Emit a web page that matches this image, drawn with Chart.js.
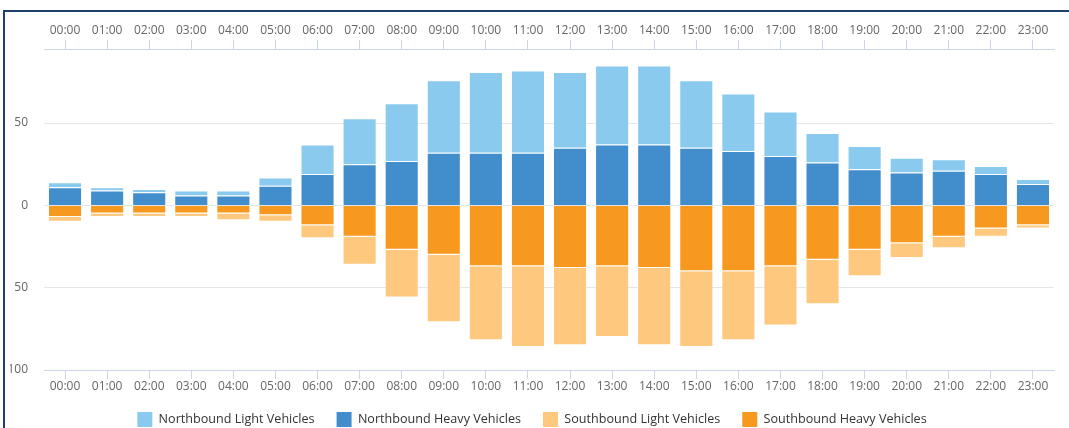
<!DOCTYPE html>
<html>
<head>
<meta charset="utf-8">
<title>Hourly traffic by direction</title>
<script src="https://cdn.jsdelivr.net/npm/chart.js@4/dist/chart.umd.min.js"></script>
<style>
  html, body { margin: 0; padding: 0; background: #ffffff; overflow: hidden; }
  #wrap { position: relative; width: 1069px; height: 428px; overflow: hidden; }
  #box { position: absolute; left: 0; top: 0; width: 1069px; height: 437px; }
  #frame {
    position: absolute; left: 3px; top: 10px; width: 1200px; height: 600px;
    border-left: 2px solid #1f4068; border-top: 2px solid #1f4068;
    pointer-events: none;
  }
</style>
</head>
<body>
<div id="wrap">
  <div id="box"><canvas id="c" width="1069" height="437"></canvas></div>
  <div id="frame"></div>
</div>
<script>
// Hour of day
const hours = ['00:00','01:00','02:00','03:00','04:00','05:00','06:00','07:00','08:00','09:00','10:00','11:00',
               '12:00','13:00','14:00','15:00','16:00','17:00','18:00','19:00','20:00','21:00','22:00','23:00'];

// Vehicle counts per hour (southbound plotted below zero)
const northLight = [3, 2, 2, 3, 3, 5, 18, 28, 35, 44, 49, 50, 46, 48, 48, 41, 35, 27, 18, 14, 9, 7, 5, 3];
const northHeavy = [11, 9, 8, 6, 6, 12, 19, 25, 27, 32, 32, 32, 35, 37, 37, 35, 33, 30, 26, 22, 20, 21, 19, 13];
const southLight = [3, 2, 2, 2, 4, 4, 8, 17, 29, 41, 45, 49, 47, 43, 47, 46, 42, 36, 27, 16, 9, 7, 5, 2];
const southHeavy = [7, 5, 5, 5, 5, 6, 12, 19, 27, 30, 37, 37, 38, 37, 38, 40, 40, 37, 33, 27, 23, 19, 14, 12];

// Value axis ticks
const yMin = -100;
const yMax = 95;
const yStep = 50;

const FONT = "'Open Sans', 'Noto Sans', sans-serif";
const EDGE = 'rgba(255,255,255,0.4)';

function barSet(label, values, color) {
  return {
    label: label,
    data: values,
    backgroundColor: color,
    borderColor: EDGE,
    borderWidth: 1,
    borderSkipped: 'start',
    stack: 'traffic',
    xAxisID: 'x',
    yAxisID: 'y'
  };
}

// Stacking order: heavy vehicles sit next to the zero line
const datasets = [
  barSet('Northbound Heavy Vehicles', northHeavy, '#428dcb'),
  barSet('Northbound Light Vehicles', northLight, '#8acaee'),
  barSet('Southbound Heavy Vehicles', southHeavy.map(v => -v), '#f7981f'),
  barSet('Southbound Light Vehicles', southLight.map(v => -v), '#fec97e')
];
// Legend order: NB light, NB heavy, SB light, SB heavy
const legendRank = [1, 0, 3, 2];

const timeAxis = (position, height, pad) => ({
  type: 'category',
  position: position,
  offset: true,
  grid: {
    display: true,
    drawOnChartArea: false,
    drawTicks: true,
    tickLength: 9,
    offset: false,
    color: '#ccd6eb',
    tickColor: '#ccd6eb'
  },
  border: { display: true, color: '#ccd6eb', width: 1 },
  ticks: {
    color: '#666666',
    font: { family: FONT, size: 12 },
    padding: pad,
    maxRotation: 0,
    autoSkip: false
  },
  afterFit: (scale) => { scale.height = height; }
});

new Chart(document.getElementById('c'), {
  type: 'bar',
  data: { labels: hours, datasets: datasets },
  options: {
    responsive: false,
    devicePixelRatio: 1,
    animation: false,
    layout: { padding: { top: 0, right: 15, bottom: 0, left: 10 } },
    datasets: { bar: { categoryPercentage: 1.0, barPercentage: 0.81 } },
    scales: {
      x: Object.assign(timeAxis('bottom', 20, 0), { stacked: true }),
      x2: timeAxis('top', 49, 2),
      y: {
        type: 'linear',
        stacked: true,
        min: yMin,
        max: yMax,
        grid: { color: '#e6e6e6', drawTicks: false, lineWidth: 1 },
        border: { display: false },
        ticks: {
          stepSize: yStep,
          includeBounds: false,
          padding: 16,
          color: '#666666',
          font: { family: FONT, size: 12 },
          callback: (v) => Math.abs(v)
        },
        afterFit: (scale) => { scale.width = 34; }
      }
    },
    plugins: {
      tooltip: { enabled: false },
      legend: {
        position: 'bottom',
        labels: {
          boxWidth: 15,
          boxHeight: 15,
          padding: 22,
          color: '#333333',
          font: { family: FONT, size: 12.6 },
          sort: (a, b) => legendRank[a.datasetIndex] - legendRank[b.datasetIndex],
          generateLabels: (chart) => Chart.defaults.plugins.legend.labels.generateLabels(chart)
            .map(item => Object.assign(item, { lineWidth: 0, strokeStyle: 'rgba(0,0,0,0)' }))
        }
      }
    }
  }
});
</script>
</body>
</html>
